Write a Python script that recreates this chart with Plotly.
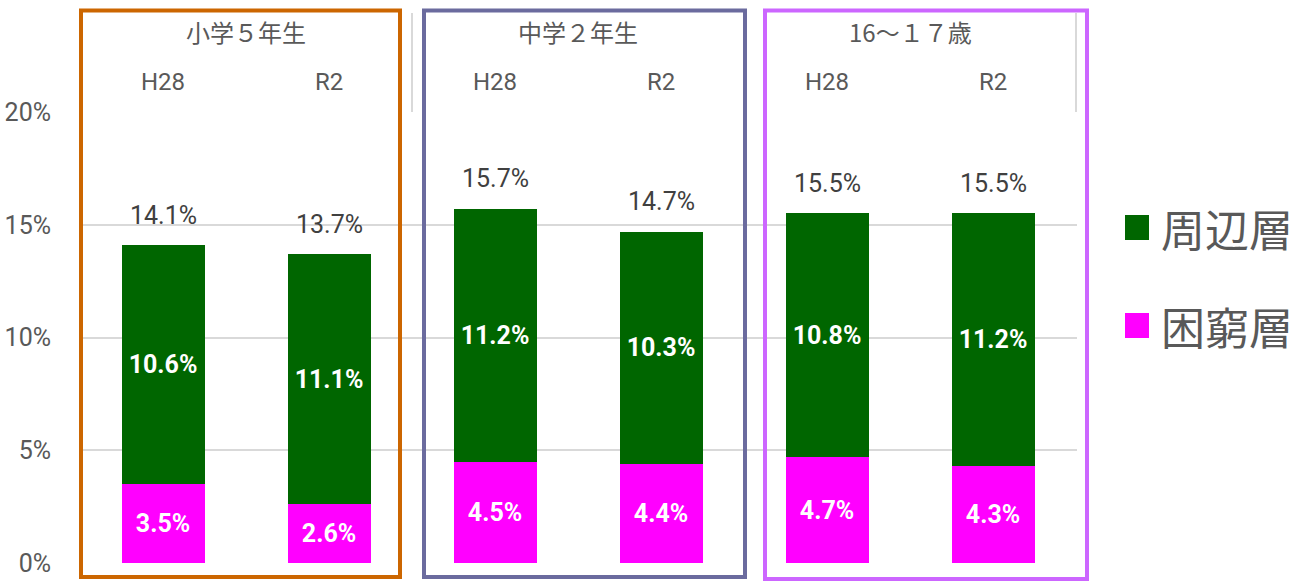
import plotly.graph_objects as go

# ---- data ----
groups = ["小学５年生", "中学２年生", "16～１７歳"]
years = ["H28", "R2"]
categories = [f"{g}|{y}" for g in groups for y in years]
konkyu = [3.5, 2.6, 4.5, 4.4, 4.7, 4.3]        # 困窮層
shuhen = [10.6, 11.1, 11.2, 10.3, 10.8, 11.2]   # 周辺層
totals = [14.1, 13.7, 15.7, 14.7, 15.5, 15.5]
series_names = ["困窮層", "周辺層"]
series_colors = ["#FF00FF", "#006600"]
box_colors = ["#CC6600", "#6B6B9E", "#CC66FF"]

W, H = 1312, 581
L, R, T, B = 79, 1077, 112, 563

def xp(px):
    return (px - L) / (R - L)

def yp(py):
    return (B - py) / (B - T)

LATIN = "Roboto, Noto Sans CJK JP, sans-serif"
CJK = "Noto Sans CJK JP, sans-serif"
GRAY = "#595959"

fig = go.Figure()
for name, vals, col in zip(series_names, [konkyu, shuhen], series_colors):
    fig.add_trace(go.Bar(
        x=categories, y=vals, name=name, marker=dict(color=col, line=dict(width=0)),
        texttemplate="%{y:.1f}%", textposition="inside", insidetextanchor="middle",
        textangle=0,
        textfont=dict(color="white", size=25, family=LATIN, weight="bold"),
        constraintext="none", showlegend=False,
    ))

annotations = []
# totals above bars
for c, t in zip(categories, totals):
    annotations.append(dict(x=c, y=t, xref="x", yref="y", text=f"{t:.1f}%",
                            showarrow=False, yanchor="middle", yshift=30,
                            font=dict(size=25, color="#404040", family=LATIN)))
# header labels
for i, c in enumerate(categories):
    annotations.append(dict(x=i, y=yp(82), xref="x", yref="paper", text=years[i % 2],
                            showarrow=False, yanchor="middle",
                            font=dict(size=24, color=GRAY, family=LATIN)))
for g, name in enumerate(groups):
    annotations.append(dict(x=2 * g + 0.5, y=yp(32), xref="x", yref="paper", text=name,
                            showarrow=False, yanchor="middle",
                            font=dict(size=24, color=GRAY, family=CJK)))
# manual legend
legend_rows = [("周辺層", "#006600", 228), ("困窮層", "#FF00FF", 326)]
shapes = []
for text, col, cy in legend_rows:
    annotations.append(dict(x=xp(1159), y=yp(cy), xref="paper", yref="paper", text=text,
                            showarrow=False, xanchor="left", yanchor="middle",
                            font=dict(size=44, color=GRAY, family=CJK)))
    shapes.append(dict(type="rect", xref="paper", yref="paper",
                       x0=xp(1125), x1=xp(1149), y0=yp(cy + 12), y1=yp(cy - 13),
                       fillcolor=col, line=dict(width=0)))

# header dividers
for xv in [-0.5, 1.5, 3.5, 5.5]:
    shapes.append(dict(type="line", xref="x", yref="paper", x0=xv, x1=xv,
                       y0=1, y1=yp(13), line=dict(color="#D9D9D9", width=2)))

# coloured group boxes
boxes = [(81, 400, 10.5, 577), (424, 745, 10.5, 577), (765, 1087, 10.5, 579)]
for (x0, x1, y0, y1), col in zip(boxes, box_colors):
    shapes.append(dict(type="rect", xref="paper", yref="paper",
                       x0=xp(x0), x1=xp(x1), y0=yp(y1), y1=yp(y0),
                       line=dict(color=col, width=4), fillcolor="rgba(0,0,0,0)", layer="above"))

fig.update_layout(
    barmode="stack", bargap=0.5,
    width=W, height=H,
    margin=dict(l=L, r=W - R, t=T, b=H - B, pad=0, autoexpand=False),
    plot_bgcolor="white", paper_bgcolor="white",
    annotations=annotations, shapes=shapes,
    xaxis=dict(type="category", showticklabels=False, showgrid=False, zeroline=False,
               showline=False, ticks="", automargin=False),
    yaxis=dict(range=[0, 20], dtick=5, ticksuffix="%", showgrid=True,
               gridcolor="#D9D9D9", gridwidth=2, zeroline=False, showline=False,
               ticks="", ticklabelstandoff=27, automargin=False,
               tickfont=dict(size=25, color=GRAY, family=LATIN)),
    showlegend=False,
)

fig.write_html("out.html", config={"displayModeBar": False},
               post_script="document.body.style.margin='0';document.body.style.overflow='hidden';")
